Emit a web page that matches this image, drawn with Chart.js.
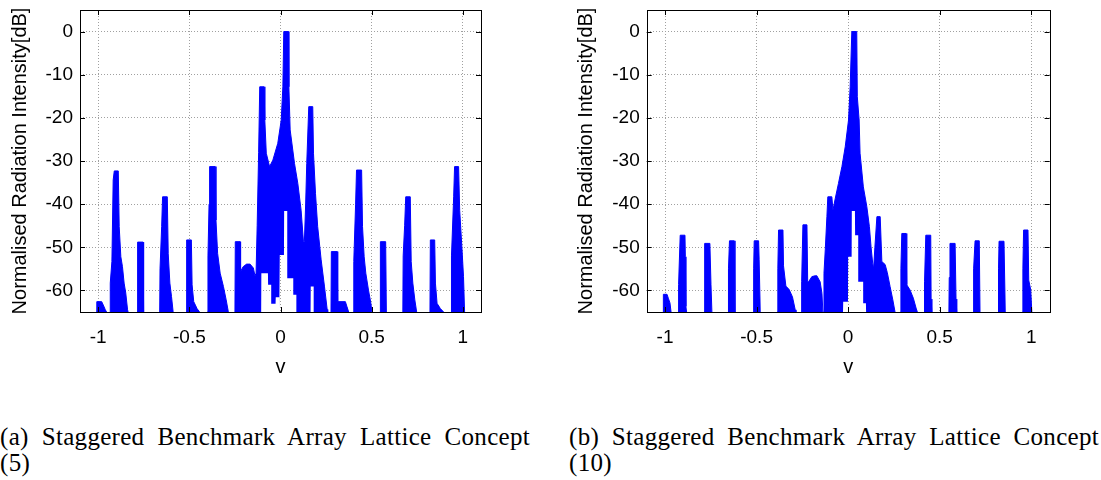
<!DOCTYPE html>
<html>
<head>
<meta charset="utf-8">
<script src="https://cdn.jsdelivr.net/npm/chart.js@4.4.0/dist/chart.umd.min.js"></script>
<style>
  html, body { margin: 0; padding: 0; background: #fff; }
  #wrap { position: relative; width: 1101px; height: 480px; overflow: hidden; background: #fff; }
  canvas { position: absolute; top: 0; }
  #cvA { left: 0; }
  #cvB { left: 560px; }
  .cap { position: absolute; top: 424px; width: 530px; font-family: "Liberation Serif", serif; font-size: 25px; line-height: 26px; letter-spacing: 0.3px; color: #000; }
  .cap .l1 { text-align: justify; text-align-last: justify; }
  #capA { left: 0; }
  #capB { left: 569px; }
</style>
</head>
<body>
<div id="wrap">
  <canvas id="cvA" width="550" height="400"></canvas>
  <canvas id="cvB" width="541" height="400"></canvas>
  <div class="cap" id="capA"><div class="l1">(a) Staggered Benchmark Array Lattice Concept</div><div>(5)</div></div>
  <div class="cap" id="capB"><div class="l1">(b) Staggered Benchmark Array Lattice Concept</div><div>(10)</div></div>
</div>
<script>
// axis ticks and titles
const xTickVals = [-1, -0.5, 0, 0.5, 1];
const xTickLabels = ['-1', '-0.5', '0', '0.5', '1'];
const yTickVals = [-60, -50, -40, -30, -20, -10, 0];
const yTickLabels = ['-60', '-50', '-40', '-30', '-20', '-10', '0'];
const xTitle = 'v';
const yTitle = 'Normalised Radiation Intensity[dB]';

// (a) concept 5 - upper envelope of the pattern
const leftTopV = [-1.10,
  -1.009, -1.008, -0.981, -0.970, -0.961, -0.954,
  -0.935, -0.934, -0.925, -0.918, -0.912, -0.890, -0.885, -0.876, -0.867, -0.858, -0.849, -0.839, -0.836,
  -0.786, -0.784, -0.754, -0.751,
  -0.663, -0.661, -0.652, -0.647, -0.621, -0.616, -0.607, -0.598, -0.589,
  -0.517, -0.515, -0.489, -0.485, -0.476, -0.458, -0.444,
  -0.401, -0.398, -0.392, -0.389, -0.358, -0.354, -0.345, -0.331, -0.313, -0.298, -0.286,
  -0.250, -0.248, -0.222, -0.219, -0.205, -0.186, -0.167, -0.149, -0.140, -0.134, -0.128, -0.120, -0.114,
  -0.090, -0.086, -0.078, -0.060, -0.042, -0.015, 0.004, 0.013, 0.018, 0.044, 0.046, 0.053, 0.077, 0.095,
  0.113, 0.126, 0.131, 0.138, 0.144, 0.155, 0.177, 0.181, 0.192, 0.204, 0.223, 0.241, 0.256, 0.259,
  0.277, 0.279, 0.311, 0.314, 0.356, 0.365, 0.374,
  0.400, 0.402, 0.412, 0.417, 0.445, 0.450, 0.459, 0.468, 0.483, 0.496, 0.501,
  0.546, 0.548, 0.577, 0.581,
  0.671, 0.673, 0.681, 0.687, 0.712, 0.717, 0.726, 0.737, 0.747,
  0.820, 0.822, 0.846, 0.850, 0.859, 0.877, 0.895,
  0.936, 0.938, 0.950, 0.955, 0.977, 0.983, 0.995, 1.004, 1.010,
  1.10];
const leftTopDb = [-65,
  -65, -62.6, -62.6, -63.6, -64.5, -65,
  -65, -58.3, -53.3, -34.4, -32.3, -32.3, -45.2, -52.2, -54.5, -58.3, -60.6, -64.5, -65,
  -65, -48.8, -48.8, -65,
  -65, -55, -45.2, -38.3, -38.3, -51.5, -58.3, -61.4, -65,
  -65, -48.3, -48.3, -58.7, -62.6, -64.2, -65,
  -65, -52, -40, -31.3, -31.3, -43.7, -51.4, -56, -59.1, -62.2, -65,
  -65, -48.7, -48.7, -55.6, -54.5, -53.9, -53.9, -54.8, -56.6, -56, -45, -28, -12.8,
  -12.8, -20.5, -28.2, -31.3, -29.8, -25.9, -20.5, -12.8, 0, 0, -12.8, -22.8, -30.6, -35.2,
  -41.4, -48.7, -48.7, -40, -30.6, -17.4, -17.4, -28.2, -37.5, -45.2, -52.9, -59, -64.4, -65,
  -65, -51, -51, -62.6, -62.6, -63.8, -65,
  -65, -53.3, -40, -32.1, -32.1, -45.2, -52.2, -56, -60, -63, -65,
  -65, -48.7, -48.7, -65,
  -65, -52, -45, -38.3, -38.3, -53.3, -58.3, -62.2, -65,
  -65, -48.3, -48.3, -58.3, -63, -64.2, -65,
  -65, -52, -38.3, -31.3, -31.3, -41.4, -49.9, -56.8, -65,
  -65];
// (a) lower edge (white holes under the main lobes)
const leftLowV = [-1.1, -0.106, -0.105, -0.069, -0.068, -0.051, -0.050, -0.027, -0.026, -0.008, -0.007,
  -0.005, -0.004, 0.019, 0.020, 0.037, 0.038, 0.070, 0.071, 0.087, 0.088, 0.165, 0.166, 0.182, 0.183, 1.1];
const leftLowDb = [-65, -65, -56, -56, -58.7, -58.7, -63.1, -63.1, -61.6, -61.6, -65,
  -65, -51.8, -51.8, -41.6, -41.6, -57.2, -57.2, -61, -61, -65, -65, -59.1, -59.1, -65, -65];

// (b) concept 10 - upper envelope
const rightTopV = [-1.10,
  -1.010, -1.009, -0.989, -0.982, -0.973, -0.967,
  -0.927, -0.926, -0.917, -0.891, -0.889, -0.886, -0.882,
  -0.787, -0.785, -0.782, -0.755, -0.749, -0.744,
  -0.656, -0.655, -0.652, -0.648, -0.622, -0.618,
  -0.519, -0.516, -0.513, -0.489, -0.486, -0.480,
  -0.387, -0.384, -0.380, -0.356, -0.353, -0.340, -0.322, -0.304, -0.289, -0.285,
  -0.255, -0.254, -0.247, -0.225, -0.221, -0.216, -0.198, -0.180, -0.171, -0.153, -0.143, -0.138,
  -0.135, -0.132, -0.125, -0.116, -0.111, -0.089, -0.083, -0.071, -0.053, -0.034, -0.016, 0.002, 0.011,
  0.020, 0.047, 0.050, 0.060, 0.065, 0.083, 0.102, 0.116, 0.125, 0.134, 0.139, 0.146, 0.157, 0.175,
  0.184, 0.202, 0.214, 0.229, 0.244, 0.256,
  0.286, 0.288, 0.293, 0.316, 0.320, 0.338, 0.356, 0.371, 0.378,
  0.415, 0.417, 0.424, 0.451, 0.453, 0.457,
  0.550, 0.552, 0.556, 0.584, 0.589, 0.593,
  0.683, 0.685, 0.693, 0.716, 0.720,
  0.819, 0.821, 0.824, 0.851, 0.858,
  0.952, 0.954, 0.958, 0.982, 0.986, 0.997, 1.003,
  1.10];
const rightTopDb = [-65,
  -65, -60.9, -60.9, -61.8, -62.9, -65,
  -65, -58.6, -47.2, -47.2, -52.2, -63.7, -65,
  -65, -55, -49.1, -49.1, -58.6, -65,
  -65, -62, -55, -48.5, -48.5, -65,
  -65, -55, -48.5, -48.5, -52.9, -65,
  -65, -55, -46, -46, -54.3, -59, -59.8, -61.5, -64.5, -65,
  -65, -58, -44.8, -44.8, -58, -58, -56.8, -56.6, -56.6, -58, -60.7, -65,
  -65, -56, -50.6, -42.9, -38.3, -38.3, -41.4, -38.8, -35.2, -31.3, -26.7, -20.5, -12.8,
  0, 0, -15.1, -20.5, -28.2, -36, -40.6, -45.2, -49.9, -53.7, -55, -50, -42.9, -42.9,
  -53.3, -54, -55.9, -59.1, -62.2, -65,
  -65, -55, -46.8, -46.8, -58.7, -59.9, -61.8, -64.1, -65,
  -65, -58, -47.2, -47.2, -62, -65,
  -65, -57, -49.1, -49.1, -62, -65,
  -65, -55, -48.5, -48.5, -65,
  -65, -55, -48.6, -48.6, -65,
  -65, -55, -46, -46, -57.6, -59.9, -65,
  -65];
// (b) lower edge
const rightLowV = [-1.1, -0.028, -0.027, -0.001, 0.000, 0.019, 0.020, 0.037, 0.038, 0.055, 0.056, 0.082, 0.083, 0.097, 0.098, 1.1];
const rightLowDb = [-65, -65, -62.6, -62.6, -52.2, -52.2, -41.6, -41.6, -47.2, -47.2, -58, -58, -63, -63, -65, -65];

const FONT = 'Liberation Sans, Arial, sans-serif';

// box round the plot with gnuplot style inward ticks
const framePlugin = {
  id: 'frame',
  afterDatasetsDraw(chart) {
    const { ctx, chartArea: a, scales } = chart;
    ctx.save();
    ctx.strokeStyle = '#000';
    ctx.lineWidth = 1;
    ctx.beginPath();
    xTickVals.forEach(v => {
      const px = Math.round(scales.x.getPixelForValue(v)) + 0.5;
      ctx.moveTo(px, a.bottom); ctx.lineTo(px, a.bottom - 5);
      ctx.moveTo(px, a.top); ctx.lineTo(px, a.top + 5);
    });
    yTickVals.forEach(v => {
      const py = Math.round(scales.y.getPixelForValue(v)) + 0.5;
      ctx.moveTo(a.left, py); ctx.lineTo(a.left + 5, py);
      ctx.moveTo(a.right, py); ctx.lineTo(a.right - 5, py);
    });
    ctx.stroke();
    ctx.strokeRect(Math.round(a.left) + 0.5, Math.round(a.top) + 0.5,
      Math.round(a.right - a.left), Math.round(a.bottom - a.top));
    ctx.restore();
  }
};

const toPts = (xs, ys) => xs.map((x, i) => ({ x: x, y: ys[i] }));

function makeChart(id, topV, topDb, lowV, lowDb, axisW, padRight, titlePad) {
  return new Chart(document.getElementById(id), {
    type: 'line',
    data: {
      datasets: [
        {
          data: toPts(topV, topDb),
          borderColor: '#0000ff',
          borderWidth: 1,
          backgroundColor: '#0000ff',
          fill: '+1',
          pointRadius: 0,
          tension: 0,
          segment: {
            // no stroke along the floor between lobes
            borderColor: c => (c.p0.parsed.y <= -65 && c.p1.parsed.y <= -65) ? 'rgba(0,0,0,0)' : undefined
          }
        },
        {
          data: toPts(lowV, lowDb),
          borderColor: 'rgba(0,0,0,0)',
          borderWidth: 1,
          fill: false,
          pointRadius: 0,
          tension: 0
        }
      ]
    },
    options: {
      responsive: false,
      animation: false,
      devicePixelRatio: 1,
      layout: { padding: { top: 10, right: padRight, left: 0, bottom: 0 } },
      plugins: { legend: { display: false }, tooltip: { enabled: false } },
      scales: {
        x: {
          type: 'linear',
          min: -1.1,
          max: 1.1,
          afterBuildTicks: s => { s.ticks = xTickVals.map(v => ({ value: v })); },
          afterFit: s => { s.height = 88; s.paddingLeft = 0; s.paddingRight = 0; },
          grid: { color: '#a0a0a0', lineWidth: 1, drawTicks: false },
          border: { display: false, dash: [1, 2] },
          ticks: {
            padding: 14, color: '#000', maxRotation: 0, autoSkip: false,
            font: { family: FONT, size: 19 },
            callback: (v, i) => xTickLabels[i]
          },
          title: { display: true, text: xTitle, color: '#000', font: { family: FONT, size: 20 }, padding: { top: 0, bottom: 21 } }
        },
        y: {
          min: -65,
          max: 5,
          afterBuildTicks: s => { s.ticks = yTickVals.map(v => ({ value: v })); },
          afterFit: s => { s.width = axisW; s.paddingTop = 0; s.paddingBottom = 0; },
          grid: { color: '#a0a0a0', lineWidth: 1, drawTicks: false },
          border: { display: false, dash: [1, 2] },
          ticks: {
            padding: 7, color: '#000', autoSkip: false,
            font: { family: FONT, size: 19 },
            callback: (v, i) => yTickLabels[i]
          },
          title: { display: true, text: yTitle, color: '#000', font: { family: FONT, size: 20 }, padding: { top: titlePad, bottom: 0 } }
        }
      }
    },
    plugins: [framePlugin]
  });
}

makeChart('cvA', leftTopV, leftTopDb, leftLowV, leftLowDb, 80, 69, 8);
makeChart('cvB', rightTopV, rightTopDb, rightLowV, rightLowDb, 86.7, 51.4, 14);
</script>
</body>
</html>
